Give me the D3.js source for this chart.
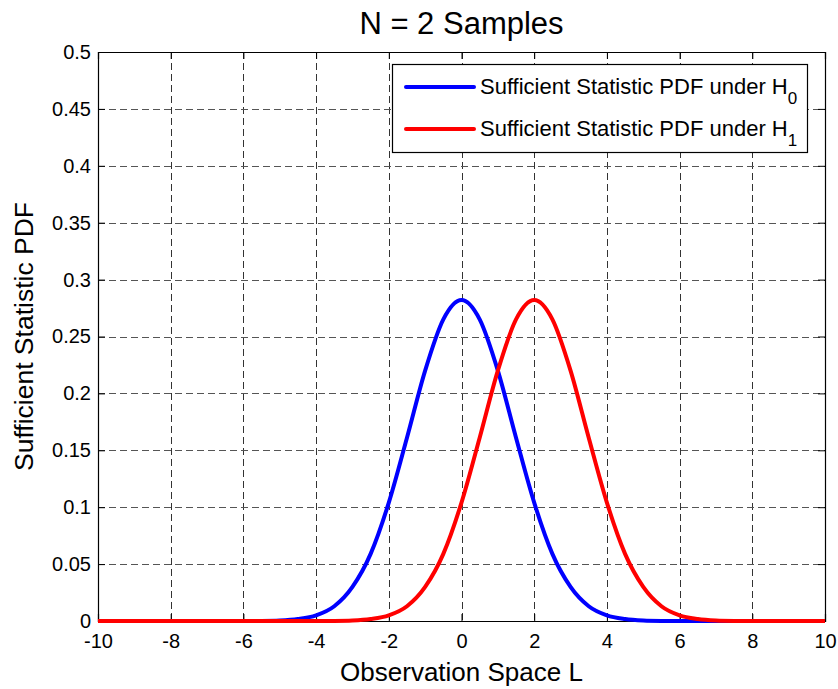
<!DOCTYPE html>
<html>
<head>
<meta charset="utf-8">
<script src="https://cdn.jsdelivr.net/npm/d3@7"></script>
<style>
  body { margin: 0; background: #fff; }
  svg { display: block; font-family: "Liberation Sans", Arial, Helvetica, sans-serif; }
</style>
</head>
<body>
<svg id="chart" width="838" height="689"></svg>
<script>
// observation points (step 0.5 from -10 to 10)
const xValues = [-10, -9.5, -9, -8.5, -8, -7.5, -7, -6.5, -6, -5.5, -5, -4.5, -4, -3.5, -3, -2.5, -2, -1.5, -1, -0.5,
    0, 0.5, 1, 1.5, 2, 2.5, 3, 3.5, 4, 4.5, 5, 5.5, 6, 6.5, 7, 7.5, 8, 8.5, 9, 9.5, 10];

// pdf under H0
const pdfH0 = [0, 0, 0, 0, 0, 0, 0, 0, 0, 0.0001, 0.0005, 0.0018, 0.005, 0.013, 0.030, 0.059, 0.104, 0.161, 0.220, 0.265,
    0.282, 0.265, 0.220, 0.161, 0.104, 0.059, 0.030, 0.013, 0.005, 0.0018, 0.0005, 0.0001, 0, 0, 0, 0, 0, 0, 0, 0, 0];

// pdf under H1
const pdfH1 = [0, 0, 0, 0, 0, 0, 0, 0, 0, 0, 0, 0, 0, 0.0001, 0.0005, 0.0018, 0.005, 0.013, 0.030, 0.059,
    0.104, 0.161, 0.220, 0.265, 0.282, 0.265, 0.220, 0.161, 0.104, 0.059, 0.030, 0.013, 0.005, 0.0018, 0.0005, 0.0001, 0, 0, 0, 0, 0];

const xTicks = [-10, -8, -6, -4, -2, 0, 2, 4, 6, 8, 10];
const xTickLabels = ["-10", "-8", "-6", "-4", "-2", "0", "2", "4", "6", "8", "10"];
const yTicks = [0, 0.05, 0.1, 0.15, 0.2, 0.25, 0.3, 0.35, 0.4, 0.45, 0.5];
const yTickLabels = ["0", "0.05", "0.1", "0.15", "0.2", "0.25", "0.3", "0.35", "0.4", "0.45", "0.5"];

const seriesNames = ["Sufficient Statistic PDF under H", "Sufficient Statistic PDF under H"];
const seriesSubs = ["0", "1"];
const seriesColors = ["#0000ff", "#ff0000"];

const titleText = "N = 2 Samples";
const xLabelText = "Observation Space L";
const yLabelText = "Sufficient Statistic PDF";

const margin = { left: 98, top: 52, right: 825, bottom: 621 };

const svg = d3.select("#chart");

const x = d3.scaleLinear().domain([-10, 10]).range([margin.left, margin.right]);
const y = d3.scaleLinear().domain([0, 0.5]).range([margin.bottom, margin.top]);

const plotW = margin.right - margin.left;
const plotH = margin.bottom - margin.top;

// background of plot
svg.append("rect")
    .attr("x", margin.left).attr("y", margin.top)
    .attr("width", plotW).attr("height", plotH)
    .attr("fill", "#fff");

// grid lines
const grid = svg.append("g").attr("class", "grid");
grid.selectAll("line.vgrid")
    .data(xTicks.slice(1, -1))
    .enter()
    .append("line")
    .attr("x1", d => Math.round(x(d)) + 0.5).attr("x2", d => Math.round(x(d)) + 0.5)
    .attr("y1", margin.top).attr("y2", margin.bottom)
    .attr("stroke", "#333")
    .attr("stroke-dasharray", "7,4");
grid.selectAll("line.hgrid")
    .data(yTicks.slice(1, -1))
    .enter()
    .append("line")
    .attr("x1", margin.left).attr("x2", margin.right)
    .attr("y1", d => Math.round(y(d)) + 0.5).attr("y2", d => Math.round(y(d)) + 0.5)
    .attr("stroke", "#555")
    .attr("stroke-dasharray", "7,4");

// axes with inward ticks
const xAxis = svg.append("g")
    .attr("transform", `translate(0,${margin.bottom})`)
    .call(d3.axisBottom(x).tickValues(xTicks).tickSize(-7).tickPadding(13).tickFormat((d, i) => xTickLabels[i]));
const xAxisTop = svg.append("g")
    .attr("transform", `translate(0,${margin.top})`)
    .call(d3.axisTop(x).tickValues(xTicks).tickSize(-7).tickFormat(""));
const yAxis = svg.append("g")
    .attr("transform", `translate(${margin.left},0)`)
    .call(d3.axisLeft(y).tickValues(yTicks).tickSize(-7).tickPadding(7).tickFormat((d, i) => yTickLabels[i]));
const yAxisRight = svg.append("g")
    .attr("transform", `translate(${margin.right},0)`)
    .call(d3.axisRight(y).tickValues(yTicks).tickSize(-7).tickFormat(""));

[xAxis, xAxisTop, yAxis, yAxisRight].forEach(ax => {
    ax.select(".domain").attr("stroke", "#000").attr("stroke-width", 1.2);
    ax.selectAll(".tick line").attr("stroke", "#000");
    ax.selectAll(".tick text")
        .attr("fill", "#000")
        .attr("font-size", 20)
        .attr("font-family", "'Liberation Sans', Arial, Helvetica, sans-serif");
});

// curves
const lineGen = d3.line()
    .x(d => x(d[0]))
    .y(d => y(d[1]))
    .curve(d3.curveMonotoneX);

[pdfH0, pdfH1].forEach((series, i) => {
    svg.append("path")
        .datum(xValues.map((v, j) => [v, series[j]]))
        .attr("d", lineGen)
        .attr("fill", "none")
        .attr("stroke", seriesColors[i])
        .attr("stroke-width", 4)
        .attr("stroke-linejoin", "round");
});

// title and axis labels
svg.append("text")
    .attr("x", (margin.left + margin.right) / 2)
    .attr("y", 34)
    .attr("text-anchor", "middle")
    .attr("font-size", 31)
    .text(titleText);

svg.append("text")
    .attr("x", (margin.left + margin.right) / 2)
    .attr("y", 681)
    .attr("text-anchor", "middle")
    .attr("font-size", 26)
    .text(xLabelText);

svg.append("text")
    .attr("transform", `translate(33,${(margin.top + margin.bottom) / 2}) rotate(-90)`)
    .attr("text-anchor", "middle")
    .attr("font-size", 26.5)
    .text(yLabelText);

// legend
const legend = svg.append("g");
legend.append("rect")
    .attr("x", 392.5).attr("y", 64.5)
    .attr("width", 415).attr("height", 88)
    .attr("fill", "#fff")
    .attr("stroke", "#000")
    .attr("stroke-width", 1.2);

const rowY = [87, 129];
seriesNames.forEach((name, i) => {
    legend.append("line")
        .attr("x1", 406).attr("x2", 474)
        .attr("y1", rowY[i]).attr("y2", rowY[i])
        .attr("stroke", seriesColors[i])
        .attr("stroke-width", 4)
        .attr("stroke-linecap", "round");
    const t = legend.append("text")
        .attr("x", 480)
        .attr("y", rowY[i] + 7)
        .attr("font-size", 22);
    t.append("tspan").text(name);
    t.append("tspan")
        .attr("dy", 10)
        .attr("font-size", 17)
        .text(seriesSubs[i]);
});
</script>
</body>
</html>
